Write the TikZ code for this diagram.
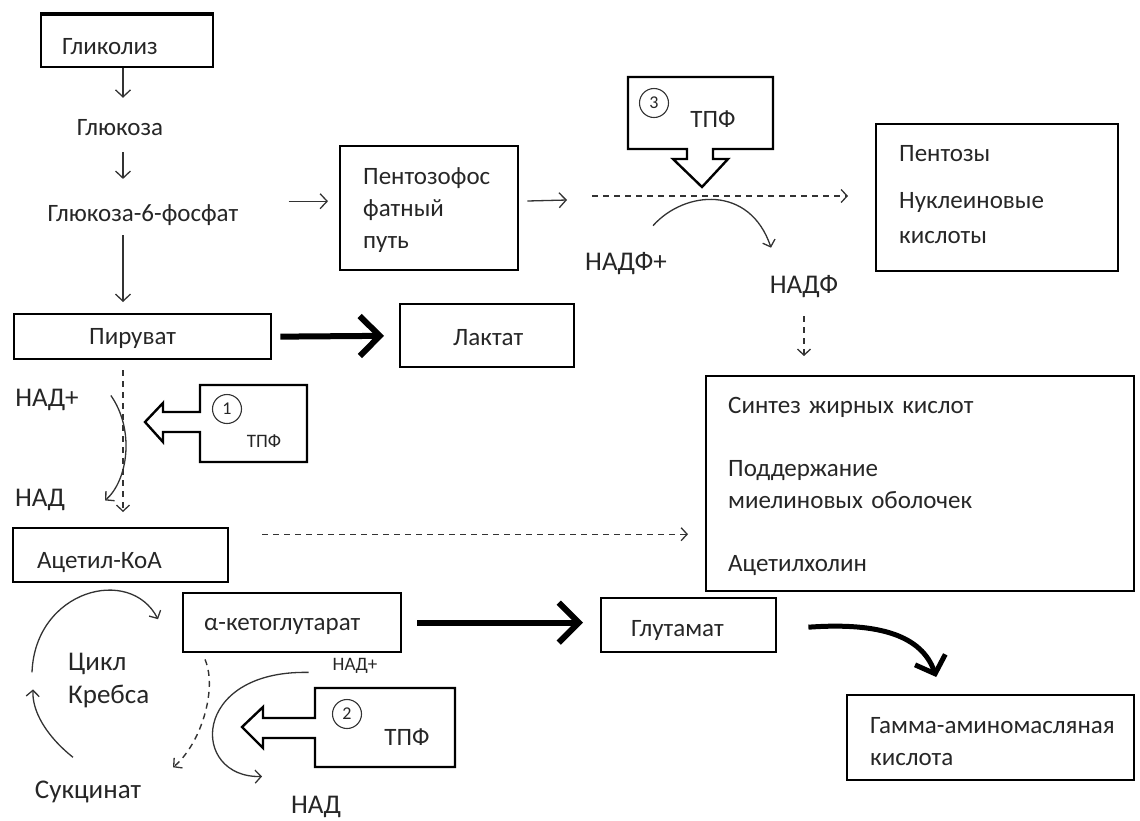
\documentclass[tikz,border=0pt]{standalone}
\usepackage{fontspec}
\setmainfont{Carlito}
\usetikzlibrary{arrows.meta}
\definecolor{txt}{HTML}{262626}
\definecolor{ln}{HTML}{333333}
\begin{document}
\begin{tikzpicture}[x=1pt,y=-1pt,
  fa/.style={font=\fontsize{25}{32}\selectfont},
  fb/.style={font=\fontsize{27}{33}\selectfont},
  fc/.style={font=\fontsize{19}{22}\selectfont},
  lbl/.style={inner sep=0pt, anchor=base, text=txt},
  box/.style={draw=black, line width=2.4pt, rectangle, anchor=north west, inner ysep=0pt, align=left, text=txt, fa},
  arr/.style={draw=ln, line width=1.3pt, -{Straight Barb[length=7pt,width=15pt,line width=1.3pt]}},
  darr/.style={draw=ln, line width=1.4pt, dash pattern=on 6pt off 5pt, -{Straight Barb[length=6pt,width=13pt,line width=1.3pt]}},
  carr/.style={draw=ln, line width=1.3pt, -{Straight Barb[length=6pt,width=13pt,line width=1.3pt]}},
  tarr/.style={draw=black, line width=6pt, -{Straight Barb[length=20pt,width=40pt,line width=6pt]}},
  tcarr/.style={draw=black, line width=5pt, -{Straight Barb[length=15pt,width=32pt,line width=5pt]}},
  blockarr/.style={draw=black, line width=2.4pt, line join=miter, fill=white},
  num/.style={circle, draw=ln, line width=1.1pt, minimum size=29pt, inner sep=0pt, text=txt, font=\fontsize{18}{18}\selectfont}
]
\useasboundingbox (0,0) rectangle (1140,820);
\coordinate (col) at (123,0);

% boxes
\node[box, inner xsep=21pt, text width=130pt, text height=39pt, text depth=13pt] (glyc) at (40,14) {Гликолиз};
\draw[line width=4.5pt] (glyc.north west) -- (glyc.north east);
\node[box, inner xsep=23pt, text width=132pt, text height=38pt, text depth=86pt] (ppp) at (339,145) {Пентозофос\\фатный\\путь};
\node[box, inner xsep=23pt, text width=196pt, text height=37pt, text depth=110pt] (pent) at (875,123) {Пентозы\\[15pt]Нуклеиновые\\[3pt]кислоты};
\node[box, inner xsep=75pt, text width=107pt, text height=30pt, text depth=15pt] (pyr) at (13,313) {Пируват};
\node[box, inner xsep=53pt, text width=68pt, text height=41pt, text depth=22pt] (lact) at (399,303) {Лактат};
\node[box, inner xsep=24pt, text width=167pt, text height=40pt, text depth=14pt] (acoa) at (12,527) {Ацетил-КоА};
\node[box, inner xsep=21pt, text width=176pt, text height=37pt, text depth=22pt] (akg) at (182,592) {α-кетоглутарат};
\node[box, inner xsep=30pt, text width=115pt, text height=38pt, text depth=16pt] (glu) at (600,597) {Глутамат};
\node[box, inner xsep=22pt, text width=384pt, text height=37pt, text depth=178pt] (syn) at (705,375) {Синтез жирных кислот\\[31pt]Поддержание\\миелиновых оболочек\\[31pt]Ацетилхолин};
\node[box, inner xsep=23pt, text width=241pt, text height=38pt, text depth=47pt] (gaba) at (846,694) {\mbox{Гамма-аминомасляная}\\кислота};

% labels
\node[lbl, fa] (glc) at (120,135) {Глюкоза};
\node[lbl, fa] (g6p) at (143,221) {Глюкоза-6-фосфат};
\node[lbl, fb] (nadp) at (626,270) {НАДФ+};
\node[lbl, fb] (nadph) at (804,293) {НАДФ};
\node[lbl, fb] (nad1) at (47,406) {НАД+};
\node[lbl, fb] (nadh1) at (40,506) {НАД};
\node[lbl, fb, anchor=base west, align=left, text width=110pt] (krebs) at (68,670) {Цикл\\Кребса};
\node[lbl, fb] (succ) at (88,798) {Сукцинат};
\node[lbl, fc] (nad2) at (355,670) {НАД+};
\node[lbl, fb] (nadh2) at (316,813) {НАД};

% TPF block arrows
\draw[blockarr] (628,77) -- (773,77) -- (773,149) -- (713,149) -- (713,159) -- (728,159) -- (702,187) -- (673,159) -- (687,159) -- (687,149) -- (628,149) -- cycle;
\node[num] (n3) at (654,103) {3};
\node[lbl, fa] (tpf3) at (713,127) {ТПФ};

\draw[blockarr] (307,385) -- (200,385) -- (200,412) -- (163,412) -- (163,403) -- (145,422) -- (163,442) -- (163,432) -- (200,432) -- (200,462) -- (307,462) -- cycle;
\node[num] (n1) at (227,409) {1};
\node[lbl, fc] (tpf1) at (264,447) {ТПФ};

\draw[blockarr] (455,688) -- (315,688) -- (315,718) -- (263,718) -- (263,707) -- (242,727) -- (263,748) -- (263,738) -- (315,738) -- (315,767) -- (455,767) -- cycle;
\node[num] (n2) at (347,714) {2};
\node[lbl, fa] (tpf2) at (407,745) {ТПФ};

% glycolysis chain
\draw[arr, shorten >=21pt] (glyc.south -| col) -- (glc.north -| col);
\draw[arr, shorten <=17pt, shorten >=25pt] (glc.south -| col) -- (g6p.north -| col);
\draw[arr, shorten <=10pt, shorten >=11pt] (g6p.south -| col) -- (pyr.north -| col);

% pentose phosphate
\draw[arr, shorten <=50pt, shorten >=11pt] ([yshift=7pt]ppp.west -| g6p.east) -- ([yshift=7pt]ppp.west);
\coordinate (ppend) at (567,200);
\draw[arr, shorten <=8pt] ([yshift=7pt]ppp.east) -- (ppend);
\coordinate (dstart) at (592,196);
\draw[darr, shorten >=27pt] (dstart) -- (dstart -| pent.west);
\draw[carr] ([shift={(27,-26)}]nadp.north) .. controls (685,190) and (750,185) .. ([shift={(-33,-27)}]nadph.north);
\draw[darr, shorten <=19pt, shorten >=19pt] (nadph.south) -- (nadph.south |- syn.north);

% pyruvate
\draw[tarr, shorten <=8pt, shorten >=15pt] (pyr.east) -- (lact.west);
\draw[darr, shorten <=10pt, shorten >=15pt] (pyr.south -| col) -- (acoa.north -| col);
\draw[carr] ([shift={(32,-4)}]nad1.east) .. controls (135,430) and (128,480) .. ([shift={(40,1)}]nadh1.east);

% acetyl-CoA
\draw[darr, shorten <=33pt, shorten >=17pt] ([yshift=21pt]acoa.east) -- ([yshift=21pt]acoa.east -| syn.west);

% Krebs cycle
\draw[carr] ([shift={(20,89)}]acoa.south west) .. controls (35,590) and (130,565) .. ([shift={(-24,-3.5)}]akg.west);
\draw[carr] ([shift={(-15,-23)}]succ.north) .. controls (45,735) and (32,710) .. ([shift={(21,106)}]acoa.south west);
\draw[darr] ([shift={(23,6)}]akg.south west) .. controls (218,690) and (200,745) .. ([shift={(85,-13)}]succ.north);
\draw[carr] ([shift={(-24,7)}]nad2.west) .. controls (190,670) and (190,778) .. ([shift={(-54,-19)}]nadh2.north);

% glutamate
\draw[tarr, shorten <=15pt, shorten >=17pt] (akg.east) -- (akg.east -| glu.west);
\draw[tcarr] ([shift={(31,2)}]glu.east) .. controls (880,622) and (922,636) .. ([shift={(-54.5,-17)}]gaba.north);
\end{tikzpicture}
\end{document}
